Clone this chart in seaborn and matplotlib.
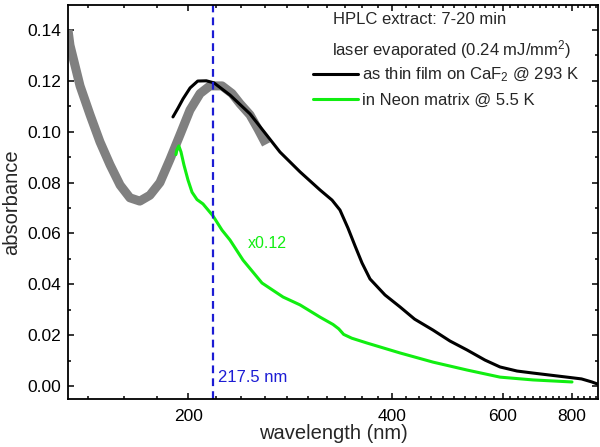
import numpy as np
import matplotlib
matplotlib.use("Agg")
import matplotlib.pyplot as plt
import matplotlib.ticker as mticker
from matplotlib.lines import Line2D
import seaborn as sns

# axis scale (wavelength nm -> horizontal position)
SCALE_NM = [60, 131, 140, 160, 180, 200, 220, 240, 260, 280, 300, 320, 340, 360, 380,
            400, 420, 440, 460, 480, 500, 520, 540, 560, 580, 600, 700, 800, 885, 2000]
SCALE_POS = [-120, 68, 87.7, 124.3, 157.3, 188.3, 216, 241, 265, 287, 308, 327, 345, 362, 378,
             392, 405.7, 419, 431, 442.7, 454.3, 465, 475.7, 485, 494, 503, 540, 572, 598, 900]

# gray noisy spectrum (film, short wavelength part)
GRAY_NM = [131.0, 131.9, 134.2, 136.5, 141.3, 146.7, 152.2, 157.7, 163.4, 169.4, 175.5,
           181.7, 188.1, 194.6, 201.2, 208.5, 215.6, 224.8, 232.8, 239.2, 247.5, 254.2, 261.0]
GRAY_ABS = [0.140, 0.134, 0.126, 0.118, 0.1066, 0.096, 0.087, 0.079, 0.074, 0.0727, 0.075,
            0.080, 0.089, 0.0987, 0.1085, 0.115, 0.118, 0.118, 0.115, 0.111, 0.1066, 0.101, 0.095]

# thin film on CaF2 @ 293 K
FILM_NM = [190.1, 193.4, 196.6, 201.3, 206.8, 213.0, 218.5, 231.2, 247.5, 260.0, 273.6, 292.4,
           312.6, 325.6, 334.4, 343.5, 351.8, 360.0, 370.0, 390.0, 411.7, 433.4, 463.4, 492.5,
           523.6, 560.0, 593.3, 637.8, 681.0, 731.0, 784.0, 831.0, 865.0, 883.0]
FILM_ABS = [0.1058, 0.1093, 0.1129, 0.1172, 0.1199, 0.1200, 0.1192, 0.1144, 0.107, 0.0995, 0.092,
            0.0842, 0.0771, 0.0731, 0.0692, 0.0621, 0.0551, 0.0484, 0.0421, 0.0358, 0.0311,
            0.0263, 0.0220, 0.0177, 0.0142, 0.0102, 0.0075, 0.0059, 0.0051, 0.0043, 0.0035,
            0.0028, 0.0016, 0.0008]

# Neon matrix @ 5.5 K (scaled x0.12)
NEON_NM = [192.0, 192.6, 193.9, 195.3, 197.2, 199.8, 202.7, 206.3, 210.6, 217.8, 224.8, 231.2,
           241.7, 257.5, 276.4, 292.4, 312.6, 326.7, 333.0, 338.5, 348.0, 366.3, 411.7, 463.4,
           523.6, 593.3, 681.0, 800.0]
NEON_ABS = [0.091, 0.0928, 0.0944, 0.092, 0.0869, 0.081, 0.0762, 0.0733, 0.0716, 0.0669, 0.0613,
            0.0574, 0.0495, 0.0405, 0.0350, 0.0319, 0.0271, 0.0242, 0.0225, 0.0203, 0.0188,
            0.0169, 0.0130, 0.0094, 0.0063, 0.0035, 0.0024, 0.0016]

PEAK_NM = 217.5
X_MAJOR = [200, 400, 600, 800]
X_MINOR = list(range(140, 900, 20))

sns.set_theme(style="ticks")
plt.rcParams["font.family"] = ["Liberation Sans", "DejaVu Sans"]
plt.rcParams["mathtext.fontset"] = "custom"
plt.rcParams["mathtext.rm"] = "Liberation Sans"
plt.rcParams["mathtext.it"] = "Liberation Sans:italic"

fig = plt.figure(figsize=(6, 4.47), dpi=100)
ax = fig.add_axes([68 / 600, 1 - 399 / 447, 530 / 600, 394 / 447])

sns.lineplot(x=GRAY_NM, y=GRAY_ABS, ax=ax, color="#808080", lw=6.5, sort=False,
             estimator=None, solid_capstyle="butt")
sns.lineplot(x=FILM_NM, y=FILM_ABS, ax=ax, color="black", lw=2.2, sort=False, estimator=None)
sns.lineplot(x=NEON_NM, y=NEON_ABS, ax=ax, color="#11ee11", lw=2.2, sort=False, estimator=None)
ax.axvline(PEAK_NM, color="#1c1cd4", lw=1.6, ls=(0, (3.5, 2.3)))

fwd = lambda v: np.interp(v, SCALE_NM, SCALE_POS)
inv = lambda p: np.interp(p, SCALE_POS, SCALE_NM)
ax.set_xscale("function", functions=(fwd, inv))
ax.set_xlim(131, 885)
ax.set_ylim(-0.0051, 0.1498)

ax.xaxis.set_major_locator(mticker.FixedLocator(X_MAJOR))
ax.xaxis.set_minor_locator(mticker.FixedLocator(X_MINOR))
ax.xaxis.set_major_formatter(mticker.FuncFormatter(lambda v, p: f"{v:g}"))
ax.xaxis.set_minor_formatter(mticker.NullFormatter())
ax.yaxis.set_major_locator(mticker.MultipleLocator(0.02))
ax.yaxis.set_minor_locator(mticker.MultipleLocator(0.01))
ax.yaxis.set_major_formatter(mticker.FormatStrFormatter("%.2f"))

ax.tick_params(which="both", direction="in", top=True, right=True, width=1.1, colors="black")
ax.tick_params(which="major", length=4.5, labelsize=12.5, pad=5)
ax.tick_params(axis="x", which="major", pad=7)
ax.tick_params(which="minor", length=2.5)
for s in ax.spines.values():
    s.set_linewidth(1.3)
    s.set_color("black")

ax.set_xlabel("wavelength (nm)", fontsize=14.5, labelpad=0)
ax.set_ylabel("absorbance", fontsize=14.5, labelpad=4)

ax.text(0.5, 0.962, "HPLC extract: 7-20 min", transform=ax.transAxes, fontsize=12,
        va="center", ha="left")
ax.text(0.498, 0.888, "laser evaporated (0.24 mJ/mm$^2$)", transform=ax.transAxes,
        fontsize=12, va="center", ha="left")
handles = [Line2D([], [], color="black", lw=2.2), Line2D([], [], color="#11ee11", lw=2.2)]
ax.legend(handles, ["as thin film on CaF$_2$ @ 293 K", "in Neon matrix @ 5.5 K"],
          loc="upper left", bbox_to_anchor=(0.462, 0.845), frameon=False, fontsize=12,
          handlelength=2.7, handletextpad=0.25, borderpad=0, borderaxespad=0,
          labelspacing=0.5)

ax.annotate("217.5 nm", xy=(PEAK_NM, 0.0035), xytext=(4, 0), textcoords="offset points",
            color="#1c1cd4", fontsize=12, va="center", ha="left")
ax.text(245.8, 0.0562, "x0.12", color="#11ee11", fontsize=11.5, va="center", ha="left")

fig.savefig("out.png", dpi=100)
